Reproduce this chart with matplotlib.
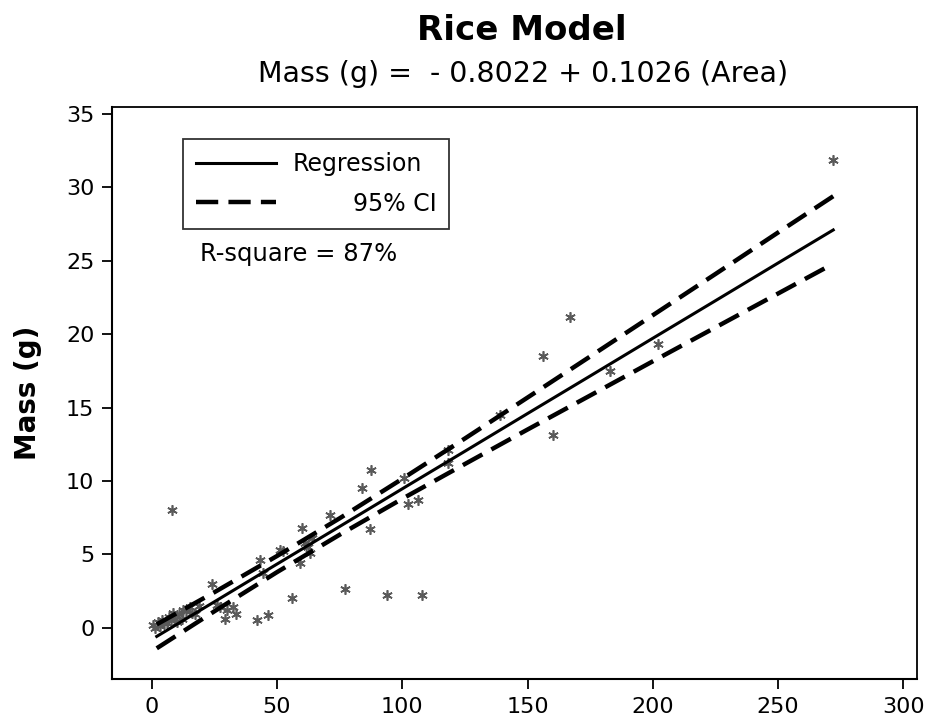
import matplotlib
matplotlib.use("Agg")
import matplotlib.pyplot as plt

# scatter data (Area, Mass)
area = [0.7, 1.5, 2.5, 3.3, 4.2, 5.0, 6.0, 6.8, 7.5, 8.6, 9.3, 10.0, 11.0, 12.0,
        12.6, 13.5, 15.3, 16.2, 17.3, 19.0, 8.0, 24.0, 26.0, 27.3, 29.3, 30.0,
        32.5, 33.5, 42.2, 46.5, 43.2, 44.6, 51.2, 52.5, 55.9, 59.2, 59.9, 61.0,
        62.5, 63.2, 64.0, 71.2, 77.2, 83.8, 87.5, 87.1, 93.8, 100.8, 102.4,
        106.4, 107.8, 118.4, 118.4, 139.2, 156.3, 160.3, 167.0, 183.0, 202.0,
        272.0]
mass = [0.2, 0.0, 0.4, 0.1, 0.5, 0.3, 0.3, 0.7, 0.5, 1.0, 0.6, 0.4, 0.9, 0.6,
        1.2, 1.1, 1.4, 1.0, 0.9, 1.5, 8.0, 3.0, 1.55, 1.4, 0.6, 1.2,
        1.4, 0.9, 0.55, 0.87, 4.6, 3.7, 5.3, 5.2, 2.0, 4.4, 6.8, 5.8,
        5.5, 5.1, 6.1, 7.7, 2.6, 9.5, 10.75, 6.75, 2.2, 10.2, 8.4,
        8.7, 2.2, 12.1, 11.2, 14.5, 18.5, 13.1, 21.2, 17.5, 19.3,
        31.9]

# fitted line and 95% CI band
fit_x = [2, 25, 50, 75, 100, 125, 150, 175, 200, 225, 250, 272]
fit_y = [-0.60, 1.76, 4.33, 6.89, 9.46, 12.02, 14.59, 17.15, 19.72, 22.28, 24.85, 27.10]
ci_lo = [-1.41, 1.11, 3.78, 6.33, 8.78, 11.15, 13.50, 15.82, 18.15, 20.46, 22.77, 24.80]
ci_hi = [0.22, 2.41, 4.88, 7.45, 10.14, 12.89, 15.68, 18.48, 21.29, 24.10, 26.93, 29.40]

xticks = [0, 50, 100, 150, 200, 250, 300]
yticks = [0, 5, 10, 15, 20, 25, 30, 35]

fig = plt.figure(figsize=(9.25, 7.23), dpi=100)
ax = fig.add_axes([0.1215, 0.0609, 0.8703, 0.7915])

ax.plot(area, mass, linestyle="none", marker=(6, 2, 0), markersize=7.5,
        markeredgewidth=1.2, color="#5a5a5a", zorder=2)
ax.plot(fit_x, fit_y, color="black", lw=2.2, label="Regression", zorder=3)
ax.plot(fit_x, ci_lo, color="black", lw=3.2, dashes=(5, 2.3), zorder=3)
ax.plot(fit_x, ci_hi, color="black", lw=3.2, dashes=(5, 2.3),
        label="        95% CI", zorder=3)

ax.set_xlim(-15.7, 305.6)
ax.set_ylim(-3.5, 35.5)
ax.set_xticks(xticks)
ax.set_yticks(yticks)
ax.tick_params(direction="out", length=7, width=1.3, labelsize=16, pad=6)
for s in ["top", "right"]:
    ax.spines[s].set_linewidth(1.3)
for s in ["left", "bottom"]:
    ax.spines[s].set_linewidth(1.5)

ax.set_ylabel("Mass (g)", fontsize=20, fontweight="bold", labelpad=17)

leg = ax.legend(loc="upper left", bbox_to_anchor=(0.0875, 0.943), fontsize=17,
                frameon=True, fancybox=False, edgecolor="black",
                handlelength=3.4, borderpad=0.55, labelspacing=0.65,
                handletextpad=0.7, borderaxespad=0)
leg.get_frame().set_linewidth(1.3)

ax.text(0.231, 0.742, "R-square = 87%", transform=ax.transAxes, fontsize=17.5,
        ha="center", va="center")

fig.text(0.564, 0.958, "Rice Model", fontsize=24.5, fontweight="bold",
         ha="center", va="center")
fig.text(0.565, 0.897, "Mass (g) =  - 0.8022 + 0.1026 (Area)", fontsize=20.5,
         ha="center", va="center")

fig.savefig("out.png", dpi=100)
